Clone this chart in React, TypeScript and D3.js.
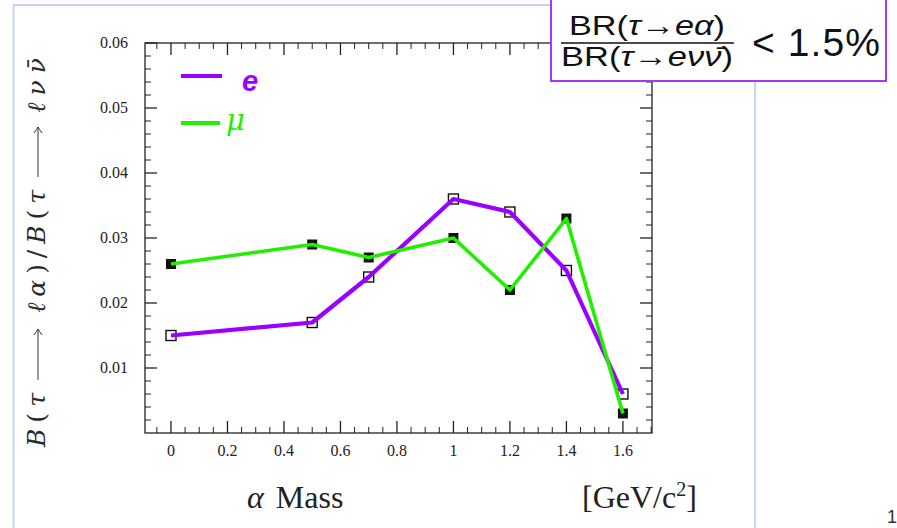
import React from "react";
import * as d3 from "d3";

// α mass points [GeV/c²]
const masses = [0, 0.5, 0.7, 1.0, 1.2, 1.4, 1.6];
// branching-ratio ratios for the electron and muon channels
const electronValues = [0.015, 0.017, 0.024, 0.036, 0.034, 0.025, 0.006];
const muonValues = [0.026, 0.029, 0.027, 0.030, 0.022, 0.033, 0.003];

const xTickValues = [0, 0.2, 0.4, 0.6, 0.8, 1.0, 1.2, 1.4, 1.6];
const xTickLabels = ["0", "0.2", "0.4", "0.6", "0.8", "1", "1.2", "1.4", "1.6"];
const yTickValues = [0.01, 0.02, 0.03, 0.04, 0.05, 0.06];
const yTickLabels = ["0.01", "0.02", "0.03", "0.04", "0.05", "0.06"];

const W = 897;
const H = 528;
const PURPLE = "#9a00ff";
const GREEN = "#22ee00";
const FRAME = "#222";

// vertical arrow used inside the rotated y-axis title (points upward)
function UpArrow({ cx, yFrom, yTo }: { cx: number; yFrom: number; yTo: number }) {
  return (
    <g stroke="#333" strokeWidth={1} fill="none">
      <line x1={cx} x2={cx} y1={yFrom} y2={yTo} />
      <path d={`M${cx - 4},${yTo + 6} Q${cx - 1},${yTo + 2} ${cx},${yTo} Q${cx + 1},${yTo + 2} ${cx + 4},${yTo + 6}`} />
    </g>
  );
}

export default function App() {
  const x = d3.scaleLinear().domain([-0.092, 1.703]).range([145, 652]);
  const y = d3.scaleLinear().domain([0, 0.06]).range([433, 43]);
  const [x0, x1] = x.range();
  const [y0, y1] = y.range();

  const xMinor = d3.range(-0.05, 1.7001, 0.05).filter(
    (v) => !xTickValues.some((t) => Math.abs(t - v) < 1e-6)
  );
  const yMinor = d3.range(0.002, 0.0591, 0.002).filter(
    (v) => !yTickValues.some((t) => Math.abs(t - v) < 1e-6)
  );

  const line = d3
    .line<number>()
    .x((_, i) => x(masses[i]))
    .y((d) => y(d));

  const serif = "'Liberation Serif', 'Times New Roman', serif";
  const mathSerif = "'DejaVu Serif', 'Liberation Serif', serif";
  const sans = "'Liberation Sans', 'DejaVu Sans', sans-serif";

  const yTitleProps = {
    fontFamily: mathSerif,
    fontSize: 25,
    fill: "#2a2a2a",
    lengthAdjust: "spacing" as const,
  };

  return (
    <svg
      width={W}
      height={H}
      viewBox={`0 0 ${W} ${H}`}
      style={{ position: "absolute", left: 0, top: 0, background: "#fff" }}
    >
      {/* slide frame */}
      <line x1={13.5} y1={5} x2={13.5} y2={H} stroke="#c5d6f4" strokeWidth={2} />
      <line x1={13} y1={5} x2={755} y2={5} stroke="#c5d6f4" strokeWidth={2} />
      <line x1={755} y1={5} x2={755} y2={H} stroke="#c5d6f4" strokeWidth={2} />

      {/* plot frame */}
      <rect x={x0} y={y1} width={x1 - x0} height={y0 - y1} fill="none" stroke={FRAME} strokeWidth={1.3} />

      {/* x ticks, bottom and top, pointing inward */}
      {xTickValues.map((v) => (
        <g key={"xt" + v} stroke={FRAME} strokeWidth={1.3}>
          <line x1={x(v)} x2={x(v)} y1={y0} y2={y0 - 12} />
          <line x1={x(v)} x2={x(v)} y1={y1} y2={y1 + 12} />
        </g>
      ))}
      {xMinor.map((v) => (
        <g key={"xm" + v} stroke={FRAME} strokeWidth={1}>
          <line x1={x(v)} x2={x(v)} y1={y0} y2={y0 - 6} />
          <line x1={x(v)} x2={x(v)} y1={y1} y2={y1 + 6} />
        </g>
      ))}

      {/* y ticks, left and right, pointing inward */}
      {yTickValues.map((v) => (
        <g key={"yt" + v} stroke={FRAME} strokeWidth={1.3}>
          <line x1={x0} x2={x0 + 12} y1={y(v)} y2={y(v)} />
          <line x1={x1} x2={x1 - 12} y1={y(v)} y2={y(v)} />
        </g>
      ))}
      {yMinor.map((v) => (
        <g key={"ym" + v} stroke={FRAME} strokeWidth={1}>
          <line x1={x0} x2={x0 + 6} y1={y(v)} y2={y(v)} />
          <line x1={x1} x2={x1 - 6} y1={y(v)} y2={y(v)} />
        </g>
      ))}

      {/* tick labels */}
      {xTickValues.map((v, i) => (
        <text
          key={"xl" + v}
          x={x(v)}
          y={456}
          textAnchor="middle"
          fontFamily={serif}
          fontSize={16}
          fill="#222"
        >
          {xTickLabels[i]}
        </text>
      ))}
      {yTickValues.map((v, i) => (
        <text
          key={"yl" + v}
          x={128}
          y={y(v) + 5}
          textAnchor="end"
          fontFamily={serif}
          fontSize={16}
          fill="#222"
        >
          {yTickLabels[i]}
        </text>
      ))}

      {/* markers */}
      {masses.map((m, i) => (
        <rect
          key={"me" + m}
          x={x(m) - 5}
          y={y(electronValues[i]) - 5}
          width={10}
          height={10}
          fill="#fff"
          stroke="#111"
          strokeWidth={1.4}
        />
      ))}
      {masses.map((m, i) => (
        <rect
          key={"mm" + m}
          x={x(m) - 5}
          y={y(muonValues[i]) - 5}
          width={10}
          height={10}
          fill="#111"
        />
      ))}

      {/* series lines */}
      <path d={line(electronValues) ?? ""} fill="none" stroke={PURPLE} strokeWidth={4.2} strokeLinejoin="round" />
      <path d={line(muonValues) ?? ""} fill="none" stroke={GREEN} strokeWidth={3.6} strokeLinejoin="round" />

      {/* legend */}
      <line x1={181} x2={222} y1={76} y2={76} stroke={PURPLE} strokeWidth={4} />
      <text x={242} y={91} fontFamily={sans} fontWeight="bold" fontStyle="italic" fontSize={29} fill={PURPLE}>
        e
      </text>
      <line x1={181} x2={220} y1={123} y2={123} stroke={GREEN} strokeWidth={4} />
      <text x={226} y={130} fontFamily={mathSerif} fontStyle="italic" fontSize={29} fill={GREEN}>
        μ
      </text>

      {/* y axis title: B(τ → ℓα)/B(τ → ℓνν̄) */}
      <text transform="translate(45,447) rotate(-90)" textLength={54} {...yTitleProps}>
        <tspan fontStyle="italic">B</tspan>(<tspan fontStyle="italic">τ</tspan>
      </text>
      <UpArrow cx={38} yFrom={380} yTo={329} />
      <text transform="translate(45,313) rotate(-90)" textLength={123} {...yTitleProps}>
        <tspan fontStyle="italic">ℓα</tspan>)/<tspan fontStyle="italic">B</tspan>(
        <tspan fontStyle="italic">τ</tspan>
      </text>
      <UpArrow cx={38} yFrom={177} yTo={127} />
      <text transform="translate(45,113) rotate(-90)" textLength={55} {...yTitleProps}>
        <tspan fontStyle="italic">ℓνν̄</tspan>
      </text>

      {/* x axis title */}
      <text x={247} y={508} fontFamily={serif} fontSize={32} fill="#222">
        <tspan fontStyle="italic">α</tspan>
        <tspan dx={12}>Mass</tspan>
      </text>
      <text x={582} y={508} fontFamily={serif} fontSize={32} fill="#222">
        [GeV/c<tspan fontSize={20} dy={-12}>2</tspan>
        <tspan dy={12}>]</tspan>
      </text>

      {/* ratio limit box */}
      <rect x={551} y={-4} width={335} height={85} fill="#fff" stroke="#a238ff" strokeWidth={2} />
      <text x={647} y={35} textAnchor="middle" fontFamily={sans} fontSize={28} fill="#111" textLength={156} lengthAdjust="spacingAndGlyphs">
        BR(<tspan fontStyle="italic">τ</tspan>→<tspan fontStyle="italic">eα</tspan>)
      </text>
      <line x1={561} x2={734} y1={43} y2={43} stroke="#111" strokeWidth={1.6} />
      <text x={647} y={66} textAnchor="middle" fontFamily={sans} fontSize={28} fill="#111" textLength={172} lengthAdjust="spacingAndGlyphs">
        BR(<tspan fontStyle="italic">τ</tspan>→<tspan fontStyle="italic">eνν̄</tspan>)
      </text>
      <text x={752} y={56} fontFamily={sans} fontSize={39} fill="#111" textLength={128} lengthAdjust="spacing">
        {"< 1.5%"}
      </text>

      {/* page number */}
      <text x={887} y={523} fontFamily={sans} fontSize={18} fill="#333">
        1
      </text>
    </svg>
  );
}
